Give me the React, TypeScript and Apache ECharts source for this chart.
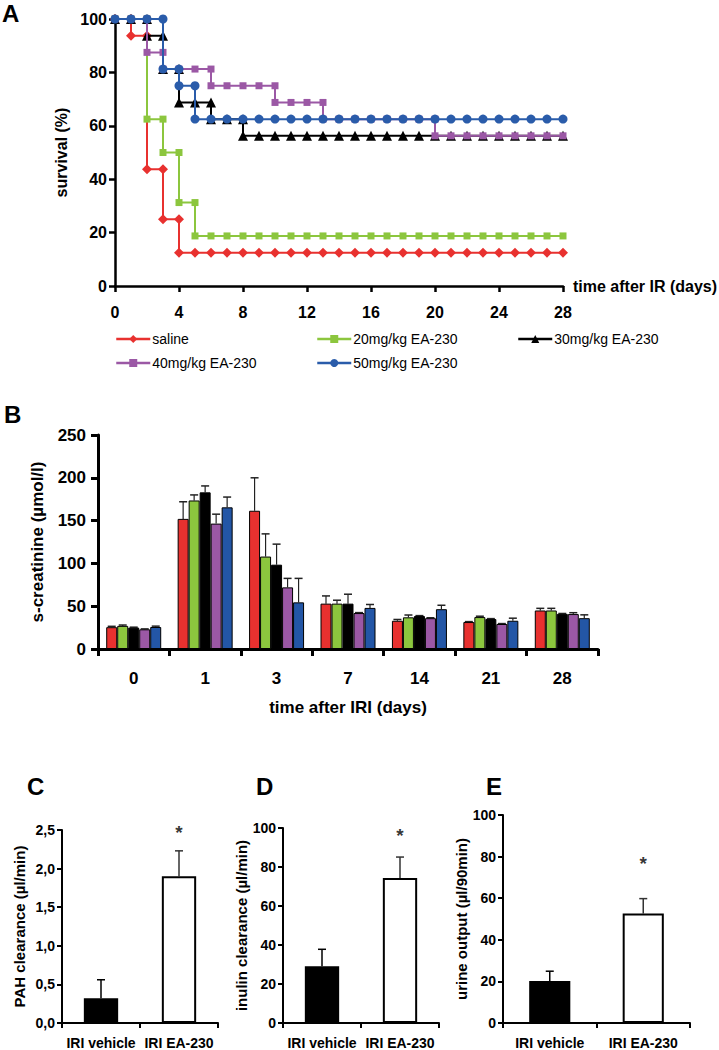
import React, { useEffect, useRef } from "react";
import * as echarts from "echarts";

const FONT = "'Liberation Sans', Arial, Helvetica, sans-serif";

// ---------- Panel A: survival ----------
const survivalDays = [0, 1, 2, 3, 4, 5, 6, 7, 8, 9, 10, 11, 12, 13, 14, 15, 16, 17, 18, 19, 20, 21, 22, 23, 24, 25, 26, 27, 28];
const survivalSaline = [100, 93.75, 43.75, 25, 12.5, 12.5, 12.5, 12.5, 12.5, 12.5, 12.5, 12.5, 12.5, 12.5, 12.5, 12.5, 12.5, 12.5, 12.5, 12.5, 12.5, 12.5, 12.5, 12.5, 12.5, 12.5, 12.5, 12.5, 12.5];
const survival20 = [100, 100, 62.5, 50, 31.25, 18.75, 18.75, 18.75, 18.75, 18.75, 18.75, 18.75, 18.75, 18.75, 18.75, 18.75, 18.75, 18.75, 18.75, 18.75, 18.75, 18.75, 18.75, 18.75, 18.75, 18.75, 18.75, 18.75, 18.75];
const survival30 = [100, 100, 93.75, 81.25, 68.75, 68.75, 62.5, 62.5, 56.25, 56.25, 56.25, 56.25, 56.25, 56.25, 56.25, 56.25, 56.25, 56.25, 56.25, 56.25, 56.25, 56.25, 56.25, 56.25, 56.25, 56.25, 56.25, 56.25, 56.25];
const survival40 = [100, 100, 87.5, 81.25, 81.25, 81.25, 75, 75, 75, 75, 68.75, 68.75, 68.75, 62.5, 62.5, 62.5, 62.5, 62.5, 62.5, 62.5, 56.25, 56.25, 56.25, 56.25, 56.25, 56.25, 56.25, 56.25, 56.25];
const survival50 = [100, 100, 100, 81.25, 75, 62.5, 62.5, 62.5, 62.5, 62.5, 62.5, 62.5, 62.5, 62.5, 62.5, 62.5, 62.5, 62.5, 62.5, 62.5, 62.5, 62.5, 62.5, 62.5, 62.5, 62.5, 62.5, 62.5, 62.5];
const groupNames = ["saline", "20mg/kg EA-230", "30mg/kg EA-230", "40mg/kg EA-230", "50mg/kg EA-230"];

// ---------- Panel B: s-creatinine ----------
const creatDays = ["0", "1", "3", "7", "14", "21", "28"];
const creatSaline = [25.5, 152, 161.5, 53, 33, 31.5, 45];
const creat20 = [27, 173.5, 108, 53, 37, 37.3, 45];
const creat30 = [25, 183, 98.5, 53, 38.5, 35, 41];
const creat40 = [23, 146.5, 72, 42, 36, 29.2, 40.8];
const creat50 = [25.7, 165.5, 54.5, 48, 46.5, 33, 36];
const creatErrSaline = [1, 20, 38.5, 9, 1.5, 0.5, 2.5];
const creatErr20 = [1, 6.5, 26.5, 4, 2.7, 1, 2.5];
const creatErr30 = [0.5, 7.5, 24, 11, 0.5, 0.5, 0.5];
const creatErr40 = [0.5, 11, 10.5, 0.5, 0.5, 0.5, 1.6];
const creatErr50 = [1, 12, 28, 4, 4.6, 3, 3.9];

// ---------- Panels C, D, E ----------
const treatGroups = ["IRI vehicle", "IRI EA-230"];
const pahMean = [0.32, 1.9];
const pahErr = [0.24, 0.33];
const inulinMean = [29.1, 74.4];
const inulinErr = [8.7, 10.7];
const urineMean = [20.2, 52.7];
const urineErr = [4.7, 7.1];
const starPah = 2.47;
const starInulin = 96;
const starUrine = 76.5;

// ---------- styles ----------
const lineColors = ["#e8312f", "#8cc63e", "#000000", "#9b58a5", "#2a5caa"];
const barColors = ["#e8312f", "#8cc63e", "#000000", "#9b58a5", "#2356a6"];
const lineSymbols = ["diamond", "rect", "triangle", "rect", "circle"];
const lineSymbolSizes = [10, 7, 10, 7, 9];
const treatFill = ["#000000", "#ffffff"];

function stepPoints(vals: number[]) {
  const pts: number[][] = [];
  vals.forEach((v, i) => {
    if (i > 0 && vals[i - 1] !== v) pts.push([survivalDays[i], vals[i - 1]]);
    pts.push([survivalDays[i], v]);
  });
  return pts;
}

const boldText = (size: number) => ({ color: "#000", fontWeight: "bold", fontSize: size, fontFamily: FONT });

function axisCommon(width: number, tickLen: number) {
  return {
    axisLine: { show: true, onZero: false, lineStyle: { color: "#000", width } },
    axisTick: { show: true, length: tickLen, inside: false, lineStyle: { color: "#000", width } },
    splitLine: { show: false },
  };
}

export default function App() {
  const ref = useRef<HTMLDivElement>(null);
  useEffect(() => {
    if (!ref.current) return;
    const chart = echarts.init(ref.current, undefined, { renderer: "svg" });

    const survival = [survivalSaline, survival20, survival30, survival40, survival50];
    const creat = [creatSaline, creat20, creat30, creat40, creat50];
    const creatErr = [creatErrSaline, creatErr20, creatErr30, creatErr40, creatErr50];
    const B_GAP = 0.23;

    const creatErrData: number[][] = [];
    creat.forEach((arr, s) => arr.forEach((m, i) => creatErrData.push([i, m, m + creatErr[s][i], s])));

    const errRenderSingle = (capHalf: number, colors: string[]) => (params: any, api: any) => {
      const ci = api.value(0);
      const base = api.coord([ci, api.value(1)]);
      const hi = api.coord([ci, api.value(2)]);
      const x = base[0];
      const c = colors[ci];
      return {
        type: "group",
        children: [
          { type: "line", shape: { x1: x, y1: base[1], x2: x, y2: hi[1] }, style: { stroke: c, lineWidth: 1.5 } },
          { type: "line", shape: { x1: x - capHalf, y1: hi[1], x2: x + capHalf, y2: hi[1] }, style: { stroke: c, lineWidth: 1.5 } },
        ],
      };
    };

    const smallPanels = [
      { mean: pahMean, err: pahErr, star: starPah, grid: 2 },
      { mean: inulinMean, err: inulinErr, star: starInulin, grid: 3 },
      { mean: urineMean, err: urineErr, star: starUrine, grid: 4 },
    ];

    const smallSeries: any[] = [];
    smallPanels.forEach((p) => {
      smallSeries.push({
        type: "bar",
        xAxisIndex: p.grid,
        yAxisIndex: p.grid,
        barWidth: "44%",
        data: p.mean.map((v, i) => ({ value: v, itemStyle: { color: treatFill[i], borderColor: "#000", borderWidth: 2 } })),
        z: 2,
      });
      smallSeries.push({
        type: "custom",
        xAxisIndex: p.grid,
        yAxisIndex: p.grid,
        renderItem: errRenderSingle(4, ["#000", "#333"]),
        encode: { x: 0, y: [1, 2] },
        data: p.mean.map((v, i) => [i, v, v + p.err[i]]),
        z: 1,
      });
      smallSeries.push({
        type: "scatter",
        xAxisIndex: p.grid,
        yAxisIndex: p.grid,
        symbolSize: 1,
        itemStyle: { color: "rgba(0,0,0,0)" },
        label: { show: true, position: "inside", formatter: "*", ...boldText(19) },
        data: [[1, p.star]],
      });
    });

    const option: any = {
      animation: false,
      backgroundColor: "#fff",
      textStyle: { fontFamily: FONT },
      grid: [
        { left: 115, top: 19, width: 448, height: 267 },
        { left: 98, top: 435, width: 500, height: 214 },
        { left: 62, top: 830, width: 156, height: 193 },
        { left: 283, top: 828, width: 156, height: 196 },
        { left: 503, top: 815, width: 187, height: 210 },
      ],
      legend: [
        { left: 115, top: 332, data: [groupNames[0]] },
        { left: 316, top: 332, data: [groupNames[1]] },
        { left: 517, top: 332, data: [groupNames[2]] },
        { left: 115, top: 356, data: [groupNames[3]] },
        { left: 316, top: 356, data: [groupNames[4]] },
      ].map((l) => ({
        ...l,
        itemWidth: 34,
        itemHeight: 10,
        padding: 0,
        selectedMode: false,
        itemStyle: { borderWidth: 0 },
        lineStyle: { width: 2.5 },
        textStyle: { color: "#000", fontSize: 14, fontFamily: FONT, padding: [0, 0, 0, -3] },
      })),
      xAxis: [
        {
          gridIndex: 0, type: "value", min: 0, max: 28, interval: 4,
          ...axisCommon(2.5, 6),
          axisLabel: { margin: 18, ...boldText(16) },
          name: "time after IR (days)", nameLocation: "end", nameGap: 10,
          nameTextStyle: { ...boldText(16), verticalAlign: "middle" },
        },
        {
          gridIndex: 1, type: "category", data: creatDays,
          ...axisCommon(3, 7),
          axisLabel: { margin: 21, ...boldText(17) },
          name: "time after IRI (days)", nameLocation: "middle", nameGap: 50,
          nameTextStyle: boldText(17),
        },
        ...[2, 3, 4].map((g) => ({
          gridIndex: g, type: "category", data: treatGroups,
          ...axisCommon(2, 5),
          axisLabel: { margin: 13, ...boldText(14), interval: 0 },
        })),
      ],
      yAxis: [
        {
          gridIndex: 0, type: "value", min: 0, max: 100, interval: 20,
          ...axisCommon(2.5, 6),
          axisLabel: { margin: 8, ...boldText(16) },
          name: "survival (%)", nameLocation: "middle", nameGap: 45, nameTextStyle: boldText(16),
        },
        {
          gridIndex: 1, type: "value", min: 0, max: 250, interval: 50,
          ...axisCommon(3, 7),
          axisLabel: { margin: 12, ...boldText(17) },
          name: "s-creatinine (µmol/l)", nameLocation: "middle", nameGap: 52, nameTextStyle: boldText(17),
        },
        {
          gridIndex: 2, type: "value", min: 0, max: 2.5, interval: 0.5,
          ...axisCommon(2, 5),
          axisLabel: { margin: 7, ...boldText(14), formatter: (v: number) => v.toFixed(1).replace(".", ",") },
          name: "PAH clearance (µl/min)", nameLocation: "middle", nameGap: 35, nameTextStyle: boldText(15),
        },
        {
          gridIndex: 3, type: "value", min: 0, max: 100, interval: 20,
          ...axisCommon(2, 5),
          axisLabel: { margin: 7, ...boldText(14) },
          name: "inulin clearance (µl/min)", nameLocation: "middle", nameGap: 33, nameTextStyle: boldText(15),
        },
        {
          gridIndex: 4, type: "value", min: 0, max: 100, interval: 20,
          ...axisCommon(2, 5),
          axisLabel: { margin: 7, ...boldText(14) },
          name: "urine output (µl/90min)", nameLocation: "middle", nameGap: 32, nameTextStyle: boldText(15),
        },
      ],
      graphic: [
        { type: "text", left: 2, top: 1, style: { text: "A", font: `bold 24px ${FONT}`, fill: "#000" } },
        { type: "text", left: 4, top: 402, style: { text: "B", font: `bold 24px ${FONT}`, fill: "#000" } },
        { type: "text", left: 27, top: 774, style: { text: "C", font: `bold 24px ${FONT}`, fill: "#000" } },
        { type: "text", left: 256, top: 774, style: { text: "D", font: `bold 24px ${FONT}`, fill: "#000" } },
        { type: "text", left: 486, top: 774, style: { text: "E", font: `bold 24px ${FONT}`, fill: "#000" } },
      ],
      series: [
        ...survival.map((vals, s) => ({
          type: "line",
          name: groupNames[s],
          xAxisIndex: 0,
          yAxisIndex: 0,
          data: stepPoints(vals),
          symbol: lineSymbols[s],
          symbolSize: lineSymbolSizes[s],
          showSymbol: true,
          showAllSymbol: true,
          lineStyle: { color: lineColors[s], width: 2 },
          itemStyle: { color: lineColors[s] },
          z: 2 + s,
        })),
        ...creat.map((vals, s) => ({
          type: "bar",
          name: "B " + groupNames[s],
          xAxisIndex: 1,
          yAxisIndex: 1,
          data: vals,
          barGap: "0%",
          barCategoryGap: `${B_GAP * 100}%`,
          itemStyle: { color: barColors[s], borderColor: "#000", borderWidth: 1 },
          z: 2,
        })),
        {
          type: "custom",
          xAxisIndex: 1,
          yAxisIndex: 1,
          encode: { x: 0, y: [1, 2] },
          data: creatErrData,
          z: 1,
          renderItem: (params: any, api: any) => {
            const ci = api.value(0);
            const s = api.value(3);
            const base = api.coord([ci, api.value(1)]);
            const hi = api.coord([ci, api.value(2)]);
            const band = api.size([1, 0])[0];
            const bw = (band * (1 - B_GAP)) / 5;
            const x = base[0] + (s - 2) * bw;
            return {
              type: "group",
              children: [
                { type: "line", shape: { x1: x, y1: base[1], x2: x, y2: hi[1] }, style: { stroke: "#222", lineWidth: 1.2 } },
                { type: "line", shape: { x1: x - 4, y1: hi[1], x2: x + 4, y2: hi[1] }, style: { stroke: "#222", lineWidth: 1.5 } },
              ],
            };
          },
        },
        ...smallSeries,
      ],
    };
    chart.setOption(option);
    return () => chart.dispose();
  }, []);
  return <div ref={ref} style={{ position: "absolute", left: 0, top: 0, width: 719, height: 1050, background: "#fff" }} />;
}
